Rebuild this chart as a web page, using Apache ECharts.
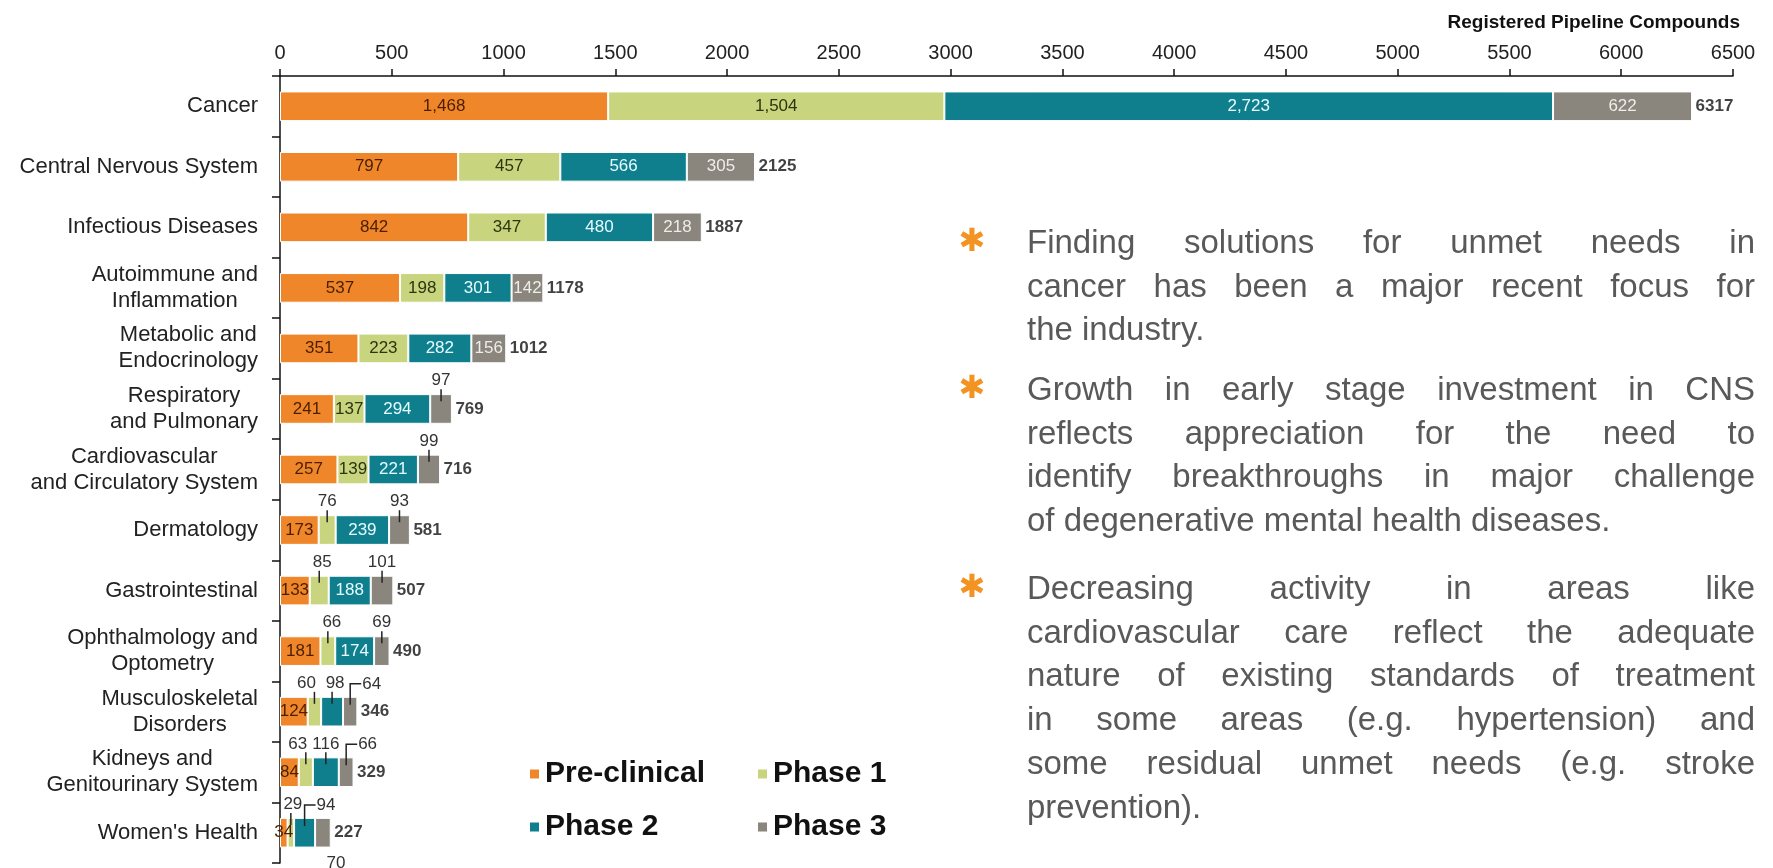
<!DOCTYPE html>
<html><head><meta charset="utf-8">
<script src="https://cdn.jsdelivr.net/npm/echarts@6/dist/echarts.min.js"></script>
<style>html,body{margin:0;padding:0;background:#fff}#chart{width:1773px;height:868px}</style>
</head><body><div id="chart"></div>
<script>
// ---------- DATA ----------
const categories = ['Cancer','Central Nervous System','Infectious Diseases','Autoimmune and\nInflammation','Metabolic and\nEndocrinology','Respiratory\nand Pulmonary','Cardiovascular\nand Circulatory System','Dermatology','Gastrointestinal','Ophthalmology and\nOptometry','Musculoskeletal\nDisorders','Kidneys and\nGenitourinary System',"Women's Health"];
const seriesNames = ['Pre-clinical','Phase 1','Phase 2','Phase 3'];
const preclinical = [1468, 797, 842, 537, 351, 241, 257, 173, 133, 181, 124, 84, 34];
const phase1      = [1504, 457, 347, 198, 223, 137, 139, 76, 85, 66, 60, 63, 29];
const phase2      = [2723, 566, 480, 301, 282, 294, 221, 239, 188, 174, 98, 116, 94];
const phase3      = [622, 305, 218, 142, 156, 97, 99, 93, 101, 69, 64, 66, 70];
const totals      = [6317, 2125, 1887, 1178, 1012, 769, 716, 581, 507, 490, 346, 329, 227];
const xMin = 0, xMax = 6500, xStep = 500;
const axisTitle = 'Registered Pipeline Compounds';
const bullets = [
  ['Finding solutions for unmet needs in','cancer has been a major recent focus for','the industry.'],
  ['Growth in early stage investment in CNS','reflects appreciation for the need to','identify breakthroughs in major challenge','of degenerative mental health diseases.'],
  ['Decreasing activity in areas like','cardiovascular care reflect the adequate','nature of existing standards of treatment','in some areas (e.g. hypertension) and','some residual unmet needs (e.g. stroke','prevention).']
];

// ---------- LAYOUT / STYLE ----------
const values = [preclinical, phase1, phase2, phase3];
const colors = ['#F0862A','#C8D57E','#0F7F8E','#8A857D'];
const labelColors = ['#4a1e00','#2c3510','#e6fcff','#efede8'];
const placement = [
  Array(13).fill('in'),
  ['in','in','in','in','in','in','in','up','up','up','up','up','up'],
  ['in','in','in','in','in','in','in','in','in','in','up','up','elbow'],
  ['in','in','in','in','in','up','up','up','up','up','elbow','elbow','down']
];
// horizontal nudges (px) for crowded outside labels: key "series-category"
const nudge = {'1-10': -8, '1-11': -8, '1-8': 3, '1-9': 4, '2-10': 3, '1-12': 2};
const SANS = '"Liberation Sans", Arial, sans-serif';
const BAR_FRAC = 0.49;

const mctx = document.createElement('canvas').getContext('2d');
function measure(text, font){ mctx.font = font; return mctx.measureText(text).width; }

const catFont = '22px ' + SANS;
const yData = categories.map(c => {
  const w = Math.max(...c.split('\n').map(l => measure(l, catFont)));
  return {value: c, textStyle: {align: 'center', padding: [0, w, 0, 0]}};
});

const fmt = v => v.toLocaleString('en-US');

const barSeries = values.map((arr, s) => ({
  name: seriesNames[s], type: 'bar', stack: 'total', barWidth: (BAR_FRAC * 100) + '%',
  itemStyle: {color: colors[s], borderColor: '#fff', borderWidth: 1},
  label: {show: true, position: 'inside', color: labelColors[s], fontSize: 17, fontFamily: SANS,
    formatter: p => placement[s][p.dataIndex] === 'in' ? fmt(p.value) : ''},
  emphasis: {disabled: true},
  data: arr
}));

const ann = [];
values.forEach((arr, s) => arr.forEach((v, i) => {
  const pl = placement[s][i];
  if (pl !== 'in') {
    let start = 0; for (let k = 0; k < s; k++) start += values[k][i];
    ann.push({value: [start, v, i], pl, dx: nudge[s + '-' + i] || 0});
  }
}));

const annSeries = {
  type: 'custom', coordinateSystem: 'cartesian2d', clip: false, silent: true, z: 5,
  encode: {x: 0, y: 2},
  data: ann.map(a => a.value),
  renderItem(params, api) {
    const a = ann[params.dataIndex];
    const st = api.value(0), v = api.value(1), c = api.value(2);
    const p0 = api.coord([st, c]), p1 = api.coord([st + v, c]);
    const cx = (p0[0] + p1[0]) / 2, cy = p0[1];
    const bh = api.size([0, 1])[1] * BAR_FRAC;
    const top = cy - bh / 2, bot = cy + bh / 2;
    const tstyle = (text, x, y, align, va) => ({type: 'text', x, y,
      style: {text, fill: '#333', font: '17px ' + SANS, align, verticalAlign: va}});
    const lstyle = {stroke: '#222', lineWidth: 1.5};
    if (a.pl === 'up') {
      return {type: 'group', children: [
        {type: 'line', shape: {x1: cx, y1: top - 5, x2: cx, y2: top + 7}, style: lstyle},
        tstyle(String(v), cx + a.dx, top - 5, 'center', 'bottom')
      ]};
    } else if (a.pl === 'elbow') {
      return {type: 'group', children: [
        {type: 'polyline', shape: {points: [[cx, top + 8], [cx, top - 13], [cx + 11, top - 13]]}, style: Object.assign({fill: null}, lstyle)},
        tstyle(String(v), cx + 12, top - 13, 'left', 'middle')
      ]};
    } else {
      return tstyle(String(v), cx + 13, bot + 7, 'center', 'top');
    }
  }
};

const totalSeries = {
  type: 'scatter', symbolSize: 1, silent: true, itemStyle: {color: 'rgba(0,0,0,0)'},
  data: totals.map((t, i) => [t, i]),
  label: {show: true, position: 'right', distance: 3, formatter: p => String(p.value[0]),
    fontWeight: 'bold', fontSize: 17, fontFamily: SANS, color: '#111'}
};

// ---------- Bullet text graphics ----------
const pFont = '33px ' + SANS;
const textLeft = 1027, textRight = 1755, starX = 972;
const paraTops = [244, 391, 590];
const lineH = 43.7;
const graphics = [];
bullets.forEach((lines, b) => {
  const y0 = paraTops[b];
  graphics.push({type: 'text', x: starX, y: y0 - 1, style: {text: '✱', fill: '#F39322', font: 'bold 32px "DejaVu Sans"', align: 'center', verticalAlign: 'middle'}});
  lines.forEach((line, li) => {
    const y = y0 + li * lineH;
    const last = li === lines.length - 1;
    if (last) {
      graphics.push({type: 'text', x: textLeft, y, style: {text: line, fill: '#595959', font: pFont, align: 'left', verticalAlign: 'middle'}});
    } else {
      const words = line.split(' ');
      const ws = words.map(w => measure(w, pFont));
      const sum = ws.reduce((a, b) => a + b, 0);
      const gap = (textRight - textLeft - sum) / (words.length - 1);
      let x = textLeft;
      words.forEach((w, k) => {
        graphics.push({type: 'text', x, y, style: {text: w, fill: '#595959', font: pFont, align: 'left', verticalAlign: 'middle'}});
        x += ws[k] + gap;
      });
    }
  });
});

const legendText = {fontSize: 30, fontWeight: 'bold', color: '#111', fontFamily: SANS};
const option = {
  animation: false,
  backgroundColor: '#fff',
  title: {text: axisTitle, right: 28, top: 8, textStyle: {fontSize: 19, fontWeight: 'bold', color: '#111', fontFamily: SANS}},
  grid: {left: 280, right: 40, top: 76, bottom: 5},
  legend: [
    {data: ['Pre-clinical', 'Phase 2'], orient: 'vertical', left: 523, top: 754, icon: 'rect', itemWidth: 11, itemHeight: 11, itemGap: 23, textStyle: legendText, selectedMode: false},
    {data: ['Phase 1', 'Phase 3'], orient: 'vertical', left: 751, top: 754, icon: 'rect', itemWidth: 11, itemHeight: 11, itemGap: 23, textStyle: legendText, selectedMode: false}
  ],
  xAxis: {type: 'value', position: 'top', min: xMin, max: xMax, interval: xStep,
    axisLine: {show: true, lineStyle: {color: '#111', width: 1.5}},
    axisTick: {show: true, length: 7, lineStyle: {color: '#111', width: 1.5}},
    axisLabel: {fontSize: 20, fontFamily: SANS, color: '#222', margin: 13, formatter: v => String(v)},
    splitLine: {show: false}},
  yAxis: {type: 'category', inverse: true, data: yData,
    axisLine: {show: true, lineStyle: {color: '#111', width: 1.5}},
    axisTick: {show: true, length: 8, lineStyle: {color: '#111', width: 1.5}},
    axisLabel: {fontSize: 22, fontFamily: SANS, color: '#222', margin: 22, lineHeight: 26},
    splitLine: {show: false}},
  graphic: graphics,
  series: [...barSeries, annSeries, totalSeries]
};
const chart = echarts.init(document.getElementById('chart'), null, {renderer: 'canvas'});
chart.setOption(option);
</script></body></html>
